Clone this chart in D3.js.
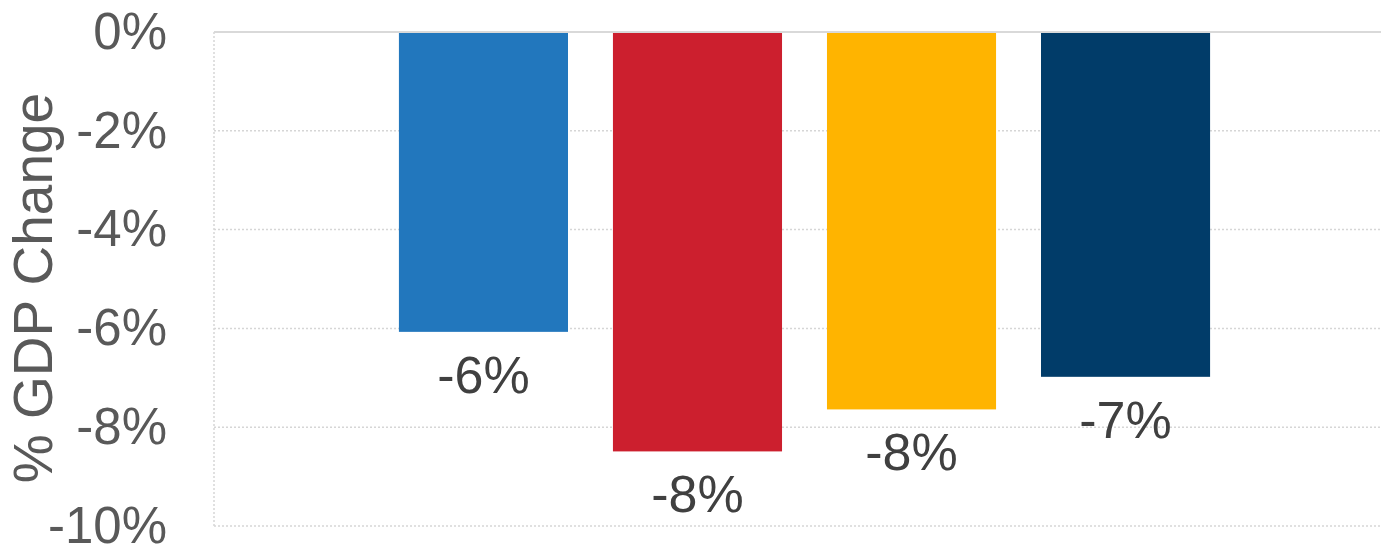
<!DOCTYPE html>
<html>
<head>
<meta charset="utf-8">
<script src="https://cdn.jsdelivr.net/npm/d3@7"></script>
<style>
  html, body { margin: 0; padding: 0; background: #fff; }
  svg { display: block; font-family: "Liberation Sans", Arial, sans-serif; }
</style>
</head>
<body>
<svg id="chart" width="1381" height="550"></svg>
<script>
// GDP change by scenario
const categories = ["Scenario A", "Scenario B", "Scenario C", "Scenario D"];
const gdpChange = [-0.0607, -0.0849, -0.0764, -0.0698];
const barColors = ["#2277bd", "#cc1f2e", "#ffb400", "#013c69"];
const yTicks = [0, -0.02, -0.04, -0.06, -0.08, -0.10];
const yTitle = "% GDP Change";

const W = 1381, H = 550;
const plot = { left: 214, right: 1395, top: 32, bottom: 526 };

const svg = d3.select("#chart");

const locale = d3.formatLocale({
  decimal: ".", thousands: ",", grouping: [3], currency: ["$", ""], minus: "-"
});
const pct = locale.format(".0%");

const x = d3.scaleBand()
  .domain(categories)
  .range([plot.left, plot.right])
  .paddingInner(0.21)
  .paddingOuter(0.864);

const y = d3.scaleLinear()
  .domain([-0.10, 0])
  .range([plot.bottom, plot.top]);

// dotted gridlines
svg.append("g")
  .selectAll("line")
  .data(yTicks.filter(d => d !== 0))
  .join("line")
  .attr("x1", plot.left)
  .attr("x2", W)
  .attr("y1", d => y(d))
  .attr("y2", d => y(d))
  .attr("stroke", "#d6d6d6")
  .attr("stroke-width", 1.5)
  .attr("stroke-dasharray", "2,2");

// left edge of the plot area
svg.append("line")
  .attr("x1", plot.left).attr("x2", plot.left)
  .attr("y1", y(0)).attr("y2", y(-0.10))
  .attr("stroke", "#d6d6d6")
  .attr("stroke-width", 1.5)
  .attr("stroke-dasharray", "2,2");

// y axis labels
const yAxis = d3.axisLeft(y)
  .tickValues(yTicks)
  .tickFormat(pct)
  .tickSize(0)
  .tickPadding(47);

const ga = svg.append("g")
  .attr("transform", `translate(${plot.left},0)`)
  .call(yAxis);
ga.select(".domain").remove();
ga.selectAll("text")
  .attr("fill", "#595959")
  .style("font-size", "51px")
  .style("font-family", "'Liberation Sans', Arial, sans-serif");

// bars
svg.append("g")
  .selectAll("rect")
  .data(categories)
  .join("rect")
  .attr("x", d => x(d))
  .attr("width", x.bandwidth())
  .attr("y", y(0))
  .attr("height", (d, i) => y(gdpChange[i]) - y(0))
  .attr("fill", (d, i) => barColors[i]);

// zero baseline
svg.append("line")
  .attr("x1", plot.left).attr("x2", W)
  .attr("y1", y(0)).attr("y2", y(0))
  .attr("stroke", "#d9d9d9")
  .attr("stroke-width", 2);

// value labels below each bar
svg.append("g")
  .selectAll("text")
  .data(categories)
  .join("text")
  .attr("x", d => x(d) + x.bandwidth() / 2)
  .attr("y", (d, i) => y(gdpChange[i]) + 61)
  .attr("text-anchor", "middle")
  .attr("fill", "#404040")
  .style("font-size", "52px")
  .text((d, i) => pct(gdpChange[i]));

// y axis title
svg.append("text")
  .attr("transform", `translate(52, ${(plot.top + plot.bottom) / 2 + 9}) rotate(-90)`)
  .attr("text-anchor", "middle")
  .attr("fill", "#595959")
  .style("font-size", "55px")
  .text(yTitle);
</script>
</body>
</html>
